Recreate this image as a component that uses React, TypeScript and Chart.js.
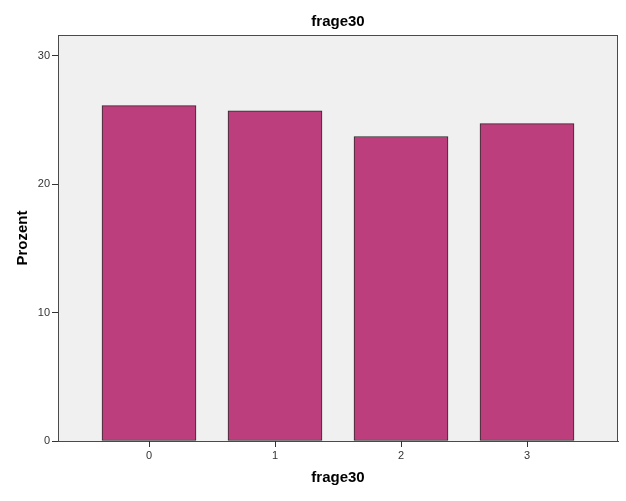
import React, { useEffect, useRef } from "react";
import { Chart, registerables } from "chart.js";

Chart.register(...registerables);

const categories = [0, 1, 2, 3];
const percentValues = [26.1, 25.7, 23.7, 24.7];
const yTicks = [0, 10, 20, 30];
const titleText = "frage30";
const xTitle = "frage30";
const yTitle = "Prozent";

const FONT = "'Liberation Sans', Arial, sans-serif";

const plotFrame = {
  id: "plotFrame",
  beforeDraw(chart: any) {
    const { ctx, chartArea } = chart;
    ctx.save();
    ctx.fillStyle = "#f0f0f0";
    ctx.fillRect(chartArea.left, chartArea.top, chartArea.right - chartArea.left, chartArea.bottom - chartArea.top);
    ctx.restore();
  },
  afterDraw(chart: any) {
    const { ctx, chartArea } = chart;
    ctx.save();
    ctx.strokeStyle = "#4a4a4a";
    ctx.lineWidth = 1;
    ctx.strokeRect(
      Math.round(chartArea.left) + 0.5,
      Math.round(chartArea.top) + 0.5,
      Math.round(chartArea.right - chartArea.left) - 1,
      Math.round(chartArea.bottom - chartArea.top)
    );
    // x tick marks
    const xs = chart.scales.x;
    ctx.strokeStyle = "#333";
    ctx.beginPath();
    categories.forEach((c) => {
      const px = Math.round(xs.getPixelForValue(c)) + 0.5;
      ctx.moveTo(px, Math.round(chartArea.bottom));
      ctx.lineTo(px, Math.round(chartArea.bottom) + 6);
    });
    ctx.stroke();
    ctx.restore();
  },
};

export default function App() {
  const ref = useRef<HTMLCanvasElement | null>(null);
  useEffect(() => {
    if (!ref.current) return;
    const chart = new Chart(ref.current, {
      type: "bar",
      data: {
        datasets: [
          {
            data: categories.map((c, i) => ({ x: c, y: percentValues[i] })),
            backgroundColor: "#bc3e7d",
            borderColor: "#2a2a2a",
            borderWidth: 1,
            borderSkipped: false,
            barThickness: 94,
          },
        ],
      },
      options: {
        animation: false,
        responsive: false,
        devicePixelRatio: 1,
        layout: { padding: { left: 0, right: 8, top: 0, bottom: 0 } },
        plugins: {
          legend: { display: false },
          tooltip: { enabled: false },
          title: {
            display: true,
            text: titleText,
            fullSize: false,
            color: "#000",
            font: { family: FONT, size: 15, weight: "bold", lineHeight: 1.2 },
            padding: { top: 13, bottom: 4 },
          },
        },
        scales: {
          x: {
            type: "linear",
            offset: false,
            min: -0.72222,
            max: 3.72222,
            afterBuildTicks: (s: any) => {
              s.ticks = categories.map((v) => ({ value: v }));
            },
            afterFit: (s: any) => {
              s.height = 60;
            },
            grid: { display: false, offset: false, drawOnChartArea: false, drawTicks: true, tickLength: 6 },
            border: { display: true, color: "#4a4a4a", width: 1 },
            ticks: {
              color: "#333",
              padding: 2,
              font: { family: FONT, size: 11 },
              maxRotation: 0,
              callback: (v: any) => String(v),
            },
            title: {
              display: true,
              text: xTitle,
              color: "#000",
              font: { family: FONT, size: 15, weight: "bold", lineHeight: 1.2 },
              padding: { top: 0, bottom: 14 },
            },
          },
          y: {
            type: "linear",
            min: 0,
            max: 31.6,
            afterBuildTicks: (s: any) => {
              s.ticks = yTicks.map((v) => ({ value: v }));
            },
            afterFit: (s: any) => {
              s.width = 58;
            },
            grid: { drawOnChartArea: false, drawTicks: true, tickLength: 6, tickColor: "#333", tickWidth: 1, color: "#333" },
            border: { display: true, color: "#4a4a4a", width: 1 },
            ticks: {
              color: "#333",
              padding: 2,
              font: { family: FONT, size: 11 },
              callback: (v: any) => String(v),
            },
            title: {
              display: true,
              text: yTitle,
              color: "#000",
              font: { family: FONT, size: 15, weight: "bold", lineHeight: 1.2 },
              padding: { top: 14, bottom: 0 },
            },
          },
        },
      },
      plugins: [plotFrame],
    } as any);
    return () => chart.destroy();
  }, []);
  return (
    <div style={{ position: "absolute", left: 0, top: 0, width: 626, height: 501, background: "#fff" }}>
      <canvas ref={ref} width={626} height={501} style={{ display: "block" }} />
    </div>
  );
}
